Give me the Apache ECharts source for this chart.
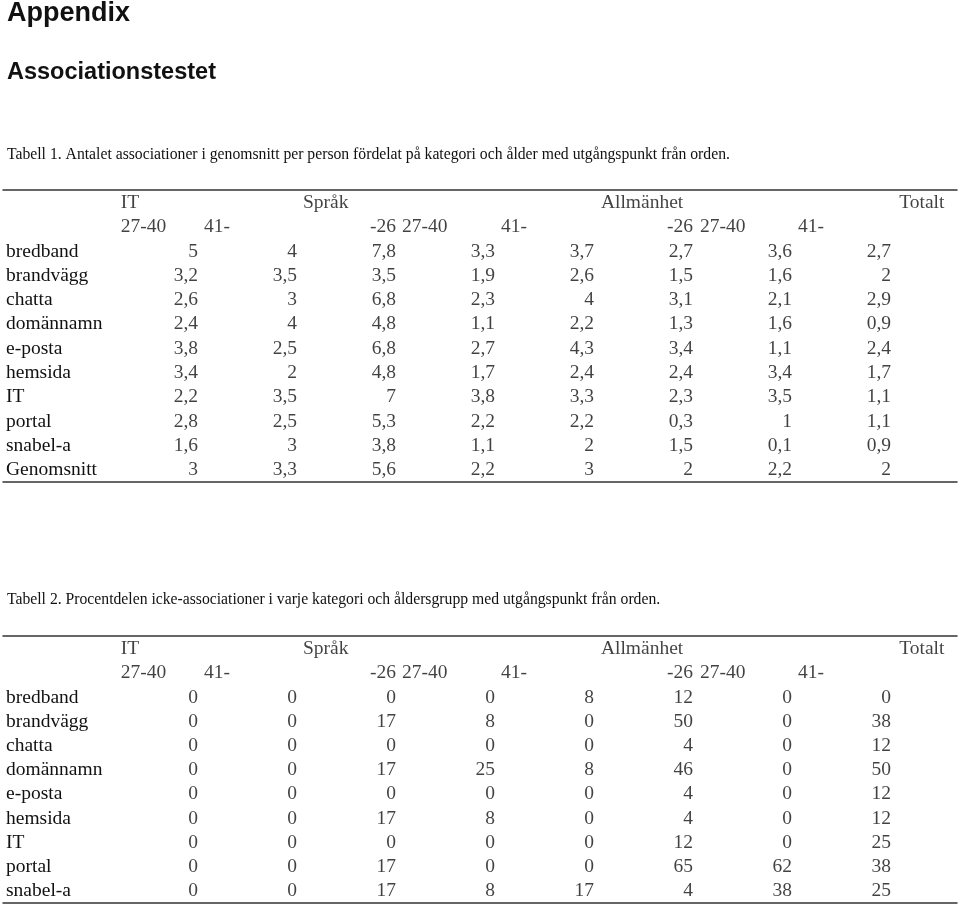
<!DOCTYPE html>
<html>
<head>
<meta charset="utf-8">
<script src="https://cdn.jsdelivr.net/npm/echarts@6/dist/echarts.min.js"></script>
<style>
  html, body { margin: 0; padding: 0; background: #fff; }
  #chart { width: 960px; height: 907px; }
</style>
</head>
<body>
<div id="chart"></div>
<script>
// column headers
const groupLabels = ['IT', 'Språk', 'Allmänhet', 'Totalt'];
const ageLabels = ['27-40', '41-', '-26', '27-40', '41-', '-26', '27-40', '41-'];

// Tabell 1 - antal associationer
const t1Rows = ['bredband', 'brandvägg', 'chatta', 'domännamn', 'e-posta',
	'hemsida', 'IT', 'portal', 'snabel-a', 'Genomsnitt'];
const t1Bredband   = [5, 4, 7.8, 3.3, 3.7, 2.7, 3.6, 2.7];
const t1Brandvagg  = [3.2, 3.5, 3.5, 1.9, 2.6, 1.5, 1.6, 2];
const t1Chatta     = [2.6, 3, 6.8, 2.3, 4, 3.1, 2.1, 2.9];
const t1Domannamn  = [2.4, 4, 4.8, 1.1, 2.2, 1.3, 1.6, 0.9];
const t1Eposta     = [3.8, 2.5, 6.8, 2.7, 4.3, 3.4, 1.1, 2.4];
const t1Hemsida    = [3.4, 2, 4.8, 1.7, 2.4, 2.4, 3.4, 1.7];
const t1IT         = [2.2, 3.5, 7, 3.8, 3.3, 2.3, 3.5, 1.1];
const t1Portal     = [2.8, 2.5, 5.3, 2.2, 2.2, 0.3, 1, 1.1];
const t1Snabela    = [1.6, 3, 3.8, 1.1, 2, 1.5, 0.1, 0.9];
const t1Genomsnitt = [3, 3.3, 5.6, 2.2, 3, 2, 2.2, 2];

// Tabell 2 - procent icke-associationer
const t2Rows = ['bredband', 'brandvägg', 'chatta', 'domännamn', 'e-posta',
	'hemsida', 'IT', 'portal', 'snabel-a'];
const t2Bredband  = [0, 0, 0, 0, 8, 12, 0, 0];
const t2Brandvagg = [0, 0, 17, 8, 0, 50, 0, 38];
const t2Chatta    = [0, 0, 0, 0, 0, 4, 0, 12];
const t2Domannamn = [0, 0, 17, 25, 8, 46, 0, 50];
const t2Eposta    = [0, 0, 0, 0, 0, 4, 0, 12];
const t2Hemsida   = [0, 0, 17, 8, 0, 4, 0, 12];
const t2IT        = [0, 0, 0, 0, 0, 12, 0, 25];
const t2Portal    = [0, 0, 17, 0, 0, 65, 62, 38];
const t2Snabela   = [0, 0, 17, 8, 17, 4, 38, 25];

const t1Values = [t1Bredband, t1Brandvagg, t1Chatta, t1Domannamn, t1Eposta,
	t1Hemsida, t1IT, t1Portal, t1Snabela, t1Genomsnitt];
const t2Values = [t2Bredband, t2Brandvagg, t2Chatta, t2Domannamn, t2Eposta,
	t2Hemsida, t2IT, t2Portal, t2Snabela];

// layout: one column unit = 99px, numbers right-aligned on the unit
const COL_PX = 99, ORIGIN_PX = 99, RULE_LEFT = 3, RULE_RIGHT = 957;
const X_MIN = (RULE_LEFT - ORIGIN_PX) / COL_PX;
const X_MAX = (RULE_RIGHT - ORIGIN_PX) / COL_PX;
// header anchors in column units: [x, side]
const groupAnchors = [[0.22, 'right'], [2.06, 'right'], [5.07, 'right'], [8.54, 'left']];
const ageAnchors = [[0.22, 'right'], [1.06, 'right'], [3, 'left'], [3.06, 'right'],
	[4.06, 'right'], [6, 'left'], [6.07, 'right'], [7.06, 'right']];

const SERIF = '"Liberation Serif", "Times New Roman", serif';
const SANS = '"Liberation Sans", Arial, sans-serif';
const INK = '#111';
const RULE = { color: '#333', width: 1.5 };
const CELL_FONT = 19.5;
const CAPTION_FONT = 15.7;

let fmt = v => String(v).replace('.', ',');

let grids = [], xAxes = [], yAxes = [], series = [];

function addTable(top, height, rowNames, values, ruleTopGap, ruleBottomGap) {
	let g = grids.length;
	grids.push({ left: RULE_LEFT, width: RULE_RIGHT - RULE_LEFT, top: top, height: height,
		outerBoundsMode: 'none' });
	let xBase = { gridIndex: g, type: 'value', min: X_MIN, max: X_MAX,
		axisTick: { show: false }, axisLabel: { show: false }, splitLine: { show: false },
		axisLine: { show: true, lineStyle: RULE } };
	let xi = xAxes.length;
	xAxes.push(Object.assign({ position: 'top', offset: ruleTopGap }, xBase));
	xAxes.push(Object.assign({ position: 'bottom', offset: ruleBottomGap }, xBase));
	yAxes.push({
		gridIndex: g, type: 'category', inverse: true, boundaryGap: false,
		data: ['', ''].concat(rowNames),
		axisLine: { show: false }, axisTick: { show: false }, splitLine: { show: false },
		axisLabel: { inside: true, margin: 3, interval: 0, fontSize: CELL_FONT,
			fontFamily: SERIF, color: INK }
	});

	let header = [];
	groupLabels.forEach((t, i) => header.push({ value: [groupAnchors[i][0], 0, t],
		label: { position: groupAnchors[i][1] } }));
	ageLabels.forEach((t, i) => header.push({ value: [ageAnchors[i][0], 1, t],
		label: { position: ageAnchors[i][1] } }));

	let cells = [];
	values.forEach((row, r) => row.forEach((v, c) => cells.push([c + 1, r + 2, v])));

	let labelBase = { show: true, distance: 0, fontSize: CELL_FONT, fontFamily: SERIF,
		color: INK, formatter: p => typeof p.value[2] == 'number' ? fmt(p.value[2]) : p.value[2] };
	[header, cells].forEach(data => series.push({
		type: 'scatter', xAxisIndex: xi, yAxisIndex: g, symbolSize: 0, silent: true,
		label: Object.assign({ position: 'left' }, labelBase),
		data: data
	}));
}

addTable(203, 267, t1Rows, t1Values, 13, 12);
addTable(649, 242, t2Rows, t2Values, 13, 12);

let chart = echarts.init(document.getElementById('chart'));
chart.setOption({
	animation: false,
	backgroundColor: '#fff',
	title: [
		{ text: 'Appendix', left: 7, top: 0, padding: 0,
			textStyle: { fontFamily: SANS, fontSize: 27, fontWeight: 'bold', color: INK } },
		{ text: 'Associationstestet', left: 7, top: 61, padding: 0,
			textStyle: { fontFamily: SANS, fontSize: 23.5, fontWeight: 'bold', color: INK } },
		{ text: 'Tabell 1. Antalet associationer i genomsnitt per person fördelat på kategori och ålder med utgångspunkt från orden.',
			left: 7, top: 146.5, padding: 0,
			textStyle: { fontFamily: SERIF, fontSize: CAPTION_FONT, fontWeight: 'normal', color: INK } },
		{ text: 'Tabell 2. Procentdelen icke-associationer i varje kategori och åldersgrupp med utgångspunkt från orden.',
			left: 7, top: 591.5, padding: 0,
			textStyle: { fontFamily: SERIF, fontSize: CAPTION_FONT, fontWeight: 'normal', color: INK } }
	],
	grid: grids,
	xAxis: xAxes,
	yAxis: yAxes,
	series: series
});
</script>
</body>
</html>
